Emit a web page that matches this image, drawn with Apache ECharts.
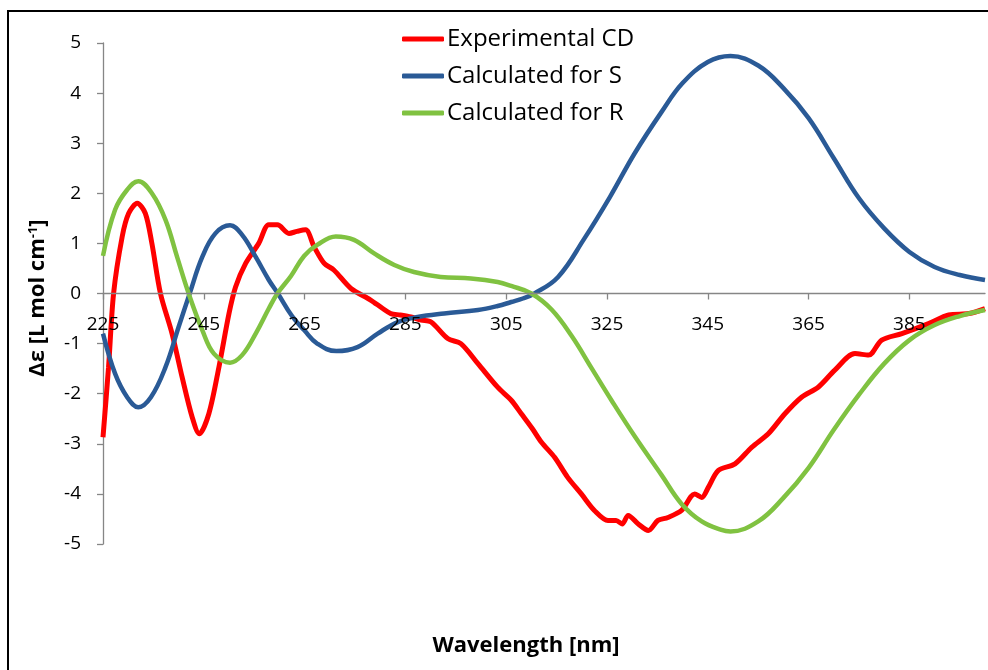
<!DOCTYPE html>
<html>
<head>
<meta charset="utf-8">
<script src="https://cdn.jsdelivr.net/npm/echarts@6/dist/echarts.min.js"></script>
<style>
html,body{margin:0;padding:0;background:#fff;}
#c{width:988px;height:670px;}
</style>
</head>
<body>
<div id="c"></div>
<script>
// ---- data (wavelength nm, delta epsilon) ----
var seriesNames = ['Experimental CD', 'Calculated for S', 'Calculated for R'];
var xTicks = [225, 245, 265, 285, 305, 325, 345, 365, 385];
var yTicks = [-5, -4, -3, -2, -1, 0, 1, 2, 3, 4, 5];

var expX = [225, 226.1, 227.1, 228.8, 230.1, 231.8, 233.4, 234.7, 236.4, 238.7, 240.7, 242.7, 244.1, 246.0, 248.0, 250.0, 251.3, 253.3, 255.9, 257.9, 259.6, 261.9, 263.5, 265.2, 266.9, 268.9, 270.8, 274.2, 278.1, 280.5, 282.1, 284.0, 286.1, 288.1, 290.1, 293.4, 296.0, 299.4, 303.3, 306.0, 308.0, 310.2, 312.0, 314.6, 317.2, 319.9, 322.5, 325.2, 326.8, 328.0, 329.2, 331.2, 333.2, 335.1, 337.1, 339.8, 342.4, 343.8, 345.1, 347.1, 350.4, 353.7, 357.0, 360.3, 363.6, 366.9, 370.2, 374.2, 376.9, 379.5, 383.5, 388.8, 392.8, 396.8, 400];
var expY = [-2.87, -1.47, 0, 1.13, 1.6, 1.8, 1.6, 1.0, 0, -0.8, -1.67, -2.47, -2.8, -2.4, -1.47, -0.4, 0.13, 0.6, 1.0, 1.37, 1.37, 1.2, 1.24, 1.27, 0.93, 0.6, 0.47, 0.1, -0.13, -0.3, -0.4, -0.43, -0.47, -0.53, -0.57, -0.9, -1.0, -1.4, -1.87, -2.13, -2.4, -2.7, -2.97, -3.27, -3.67, -4.0, -4.33, -4.53, -4.53, -4.6, -4.43, -4.6, -4.73, -4.53, -4.47, -4.33, -4.0, -4.07, -3.87, -3.53, -3.4, -3.07, -2.8, -2.4, -2.07, -1.87, -1.53, -1.2, -1.23, -0.93, -0.8, -0.6, -0.43, -0.4, -0.3];

var sX = [225, 227.4, 229.8, 232.0, 234.5, 237.4, 240.0, 242.2, 244.7, 247.3, 250.2, 252.6, 255.3, 257.9, 259.7, 262.5, 264.9, 267.5, 271.3, 275.5, 279.5, 283.5, 287.4, 292.7, 299.4, 303.3, 306.0, 308.3, 310.6, 315.3, 320.4, 325.6, 330.5, 335.8, 340, 345, 349.5, 355, 360, 365, 370, 375, 380, 385, 390, 395, 400];
var sY = [-0.8, -1.6, -2.07, -2.27, -2.07, -1.47, -0.67, 0, 0.73, 1.2, 1.36, 1.17, 0.73, 0.27, 0, -0.45, -0.73, -1.0, -1.15, -1.07, -0.8, -0.57, -0.47, -0.4, -0.33, -0.25, -0.17, -0.1, 0, 0.33, 1.08, 1.93, 2.8, 3.62, 4.2, 4.62, 4.74, 4.55, 4.1, 3.5, 2.7, 1.9, 1.3, 0.83, 0.53, 0.37, 0.27];

var rX = [225, 227.4, 229.8, 232.0, 234.7, 237.4, 239.7, 242.0, 244.7, 247.0, 250.2, 252.6, 255.3, 257.9, 259.6, 262.3, 264.9, 267.5, 271.2, 274.8, 278.8, 282.8, 286.7, 292.0, 298.0, 303.3, 306.0, 310.0, 314.0, 318.0, 322.0, 326.0, 330.5, 335.8, 339.8, 343.8, 347.7, 349.5, 355, 360, 365, 370, 375, 380, 385, 390, 395, 400];
var rY = [0.75, 1.67, 2.07, 2.24, 2.0, 1.47, 0.73, 0, -0.73, -1.2, -1.38, -1.23, -0.8, -0.3, 0, 0.35, 0.75, 0.97, 1.14, 1.07, 0.8, 0.57, 0.43, 0.33, 0.3, 0.23, 0.15, 0, -0.32, -0.85, -1.5, -2.15, -2.85, -3.62, -4.2, -4.55, -4.72, -4.75, -4.55, -4.08, -3.48, -2.72, -2.02, -1.4, -0.93, -0.63, -0.45, -0.33];

function pairs(xs, ys) {
  var out = [];
  for (var i = 0; i < xs.length; i++) out.push([xs[i], ys[i]]);
  return out;
}

var colors = ['#FF0000', '#2A5A96', '#80C241'];
var FONT = '"Open Sans", "Noto Sans", sans-serif';

var chart = echarts.init(document.getElementById('c'), null, {renderer: 'canvas'});
chart.setOption({
  animation: false,
  backgroundColor: '#ffffff',
  grid: {left: 103, right: 3, top: 43, bottom: 126, containLabel: false},
  legend: {
    orient: 'vertical',
    left: 397,
    top: 22,
    itemWidth: 42,
    itemHeight: 5,
    itemGap: 13,
    icon: 'roundRect',
    textStyle: {fontFamily: FONT, fontSize: 24, color: '#000', lineHeight: 24, padding: [0, 0, 0, -2]},
    data: seriesNames
  },
  xAxis: {
    type: 'value',
    min: 225,
    max: 400,
    z: 10,
    position: 'bottom',
    offset: -250.5,
    axisLine: {onZero: false, lineStyle: {color: '#868686', width: 1.3}},
    axisTick: {show: true, inside: false, length: 6, customValues: xTicks, lineStyle: {color: '#868686', width: 1.3}},
    axisLabel: {customValues: xTicks, margin: 22, fontFamily: FONT, fontSize: 19, color: '#000'},
    splitLine: {show: false}
  },
  yAxis: {
    type: 'value',
    min: -5,
    max: 5,
    interval: 1,
    axisLine: {show: true, onZero: false, lineStyle: {color: '#868686', width: 1.3}},
    axisTick: {show: true, length: 6, lineStyle: {color: '#868686', width: 1.3}},
    axisLabel: {margin: 22, fontFamily: FONT, fontSize: 19, color: '#000'},
    splitLine: {show: false}
  },
  graphic: [
    {type: 'rect', z: -10, shape: {x: 8, y: 11, width: 1100, height: 800}, style: {fill: 'none', stroke: '#000', lineWidth: 2}},
    {type: 'text', x: 526, y: 646, style: {text: 'Wavelength [nm]', fontFamily: FONT, fontSize: 22, fontWeight: 'bold', fill: '#000', textAlign: 'center', textVerticalAlign: 'middle'}},
    {type: 'text', x: 38, y: 298, rotation: Math.PI / 2, style: {
      text: 'Δε [L mol cm{sup|-1}]',
      fontFamily: FONT, fontSize: 22, fontWeight: 'bold', fill: '#000', textAlign: 'center', textVerticalAlign: 'middle',
      rich: {sup: {fontFamily: FONT, fontSize: 13, fontWeight: 'bold', fill: '#000', verticalAlign: 'top'}}
    }}
  ],
  series: [
    {name: seriesNames[0], type: 'line', data: pairs(expX, expY), symbol: 'none', smooth: 0.3, lineStyle: {color: colors[0], width: 5}, itemStyle: {color: colors[0]}, z: 2},
    {name: seriesNames[1], type: 'line', data: pairs(sX, sY), symbol: 'none', smooth: 0.4, lineStyle: {color: colors[1], width: 4.5}, itemStyle: {color: colors[1]}, z: 3},
    {name: seriesNames[2], type: 'line', data: pairs(rX, rY), symbol: 'none', smooth: 0.4, lineStyle: {color: colors[2], width: 4.5}, itemStyle: {color: colors[2]}, z: 4}
  ]
});
</script>
</body>
</html>
